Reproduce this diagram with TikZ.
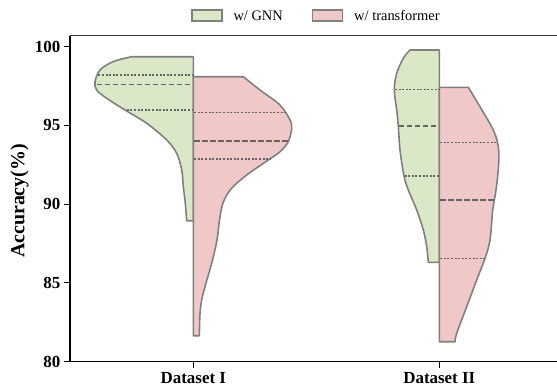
\documentclass[tikz,border=0pt]{standalone}
\usepackage{fontspec}
\setmainfont{Liberation Serif}
\definecolor{gnnfill}{RGB}{218,232,200}
\definecolor{trffill}{RGB}{240,200,200}
\definecolor{outl}{RGB}{128,128,128}
\definecolor{qline}{RGB}{100,100,100}
\tikzset{
  violin/.style={draw=outl, line width=1.6bp, line join=round},
  gnnv/.style={violin, fill=gnnfill},
  trfv/.style={violin, fill=trffill},
  medline/.style={draw=qline, line width=1.5bp, dash pattern=on 5.5bp off 2.5bp},
  quartline/.style={draw=qline, line width=1.5bp, dash pattern=on 2bp off 1.6bp},
  ticklab/.style={font=\fontsize{17}{20}\selectfont\bfseries, inner sep=0pt},
  leglab/.style={font=\fontsize{14.5}{17}\selectfont, inner sep=0pt, anchor=west},
  legbox/.style={draw=outl, line width=1.6bp},
}
\begin{document}
\begin{tikzpicture}[x=1bp,y=-1bp]
\useasboundingbox (0,0) rectangle (557,391);
% violin I, GNN
\path[gnnv] (193.3,220.7) -- (193.3,56.7) -- 
  plot[smooth, tension=0.55] coordinates {(131.7,56.7) (113,61.7) (100,70) (95,81.7) (96.7,90) (106.7,98.3) (125,110) (146.7,123.3) (166.7,140) (176.7,153.3) (181.7,170) (183.3,186.7) (185,200) (186,212) (186.7,220.7)} -- cycle;
% violin I, transformer
\path[trfv] (193.3,335.7) -- (193.3,76.7) --
  plot[smooth, tension=0.55] coordinates {(243.3,76.7) (260,90) (280,105) (290,120) (291.7,128.3) (288.3,141.7) (280,151.7) (268.3,160) (246.7,175) (231,189) (223,203) (219.5,220) (217,240) (212,262) (205,286.7) (201.7,300) (200,313.3) (199.5,328) (199.3,335.7)} -- cycle;
% violin II, GNN
\path[gnnv] (439.3,262.3) -- (439.3,50) --
  plot[smooth, tension=0.55] coordinates {(410,50) (403.3,58.3) (396.7,73.3) (394.3,90) (396.7,110) (398.3,126) (400,150) (404,176) (408.3,190) (416.7,210) (423.3,230) (426.7,246.7) (428.3,262.3)} -- cycle;
% violin II, transformer
\path[trfv] (439.3,341.7) -- (439.3,87.3) --
  plot[smooth, tension=0.55] coordinates {(468.3,87.3) (480,106.7) (493.3,130) (498.3,146.7) (498.6,165) (496,190) (492.7,210) (490,240) (485,258.3) (476.7,280) (466.7,306.7) (456.7,333.3) (455,341.7)} -- cycle;
% quartile lines
\draw[quartline] (98.3,75) -- (192.5,75);
\draw[medline] (96.7,84.3) -- (192.5,84.3);
\draw[quartline] (126.7,110) -- (192.5,110);
\draw[quartline] (194.1,112.3) -- (286,112.3);
\draw[medline] (194.1,141) -- (287.5,141);
\draw[quartline] (194.1,159) -- (270,159);
\draw[quartline] (395,89.3) -- (438.5,89.3);
\draw[medline] (398.8,126) -- (438.5,126);
\draw[quartline] (404.5,176) -- (438.5,176);
\draw[quartline] (440.1,142.7) -- (497.5,142.7);
\draw[medline] (440.1,200) -- (493.5,200);
\draw[quartline] (440.1,258.3) -- (484.5,258.3);
% axes
\coordinate (o) at (70,361.7);
\coordinate (tl) at (70,35.7);
\coordinate (tr) at (557,35.7);
\coordinate (br) at (557,361.7);
\draw[black!80, line width=1.2bp] (tl) -- (tr);
\draw[black, line width=1.2bp] (tl) -- (o) -- (br);
\foreach \v/\yy in {80/361.7,85/282.95,90/204.2,95/125.45,100/46.7} {
  \draw[black, line width=1bp] (63.5,\yy) -- (70,\yy);
  \node[ticklab, anchor=east] (yt\v) at (60.5,\yy) {\v};
}
\draw[black, line width=1bp] (193.3,361.7) -- (193.3,367.5);
\draw[black, line width=1bp] (439.3,361.7) -- (439.3,367.5);
\node[ticklab] (xl1) at (193.3,378.5) {Dataset I};
\node[ticklab] (xl2) at (439.3,378.5) {Dataset II};
\node[ticklab, font=\fontsize{20}{24}\selectfont\bfseries, rotate=90] (ylab) at (19.5,201) {Accuracy(\%)};
% legend
\path[legbox, fill=gnnfill] (191.7,10) rectangle (221.7,20.7);
\node[leglab] (lg1) at (233.3,15.8) {w/ GNN};
\path[legbox, fill=trffill] (312.3,10) rectangle (342.3,20.7);
\node[leglab] (lg2) at (354,15.8) {w/ transformer};
\end{tikzpicture}
\end{document}
